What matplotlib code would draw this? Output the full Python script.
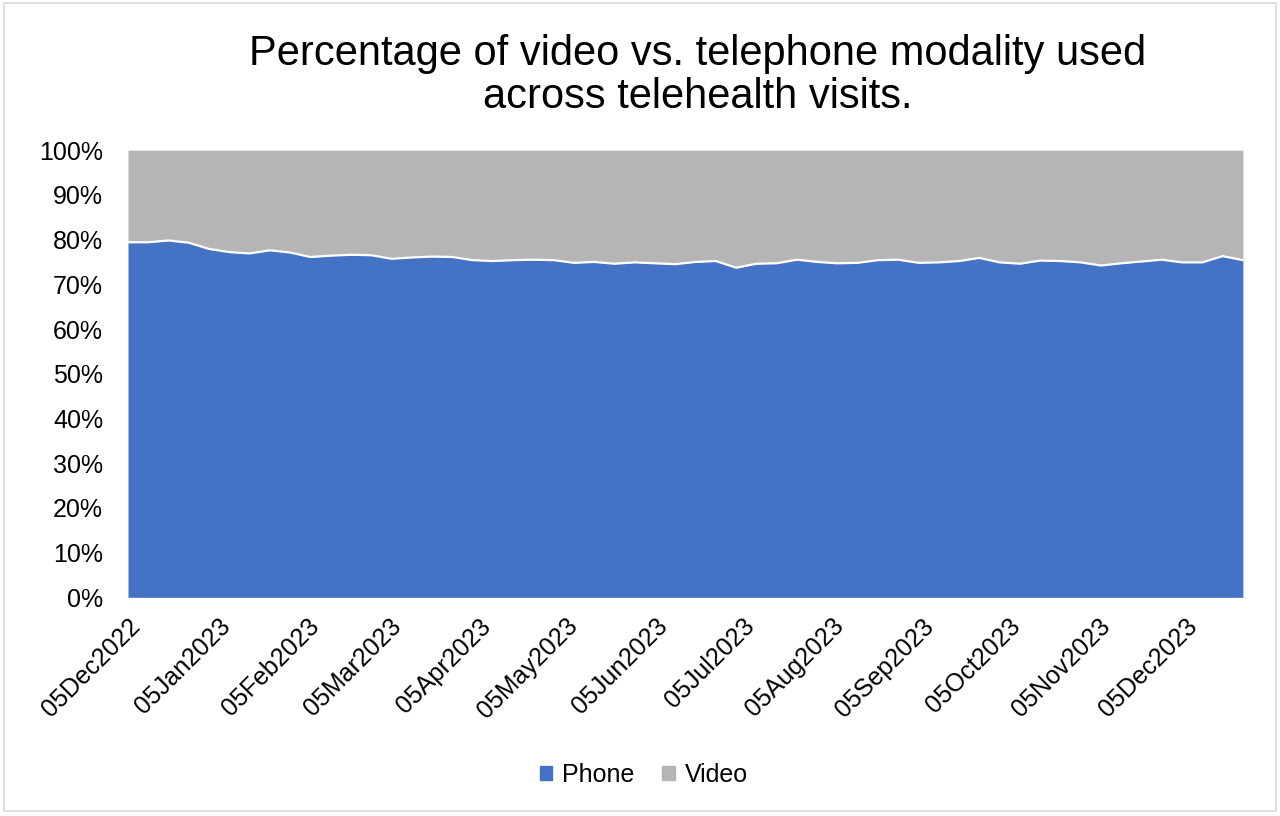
import numpy as np
import pandas as pd
import matplotlib
matplotlib.use("Agg")
import matplotlib.pyplot as plt
import matplotlib.dates as mdates
from matplotlib.patches import Patch

plt.rcParams['font.family'] = ['Liberation Sans', 'DejaVu Sans']

# weekly visits, 05Dec2022 .. 25Dec2023
weeks = pd.date_range("2022-12-05", periods=56, freq="7D")
phone_pct = [79.4, 79.4, 79.8, 79.3, 77.9, 77.2, 76.9, 77.6, 77.1, 76.1,
             76.4, 76.6, 76.5, 75.7, 76.0, 76.2, 76.1, 75.4, 75.2, 75.4,
             75.5, 75.4, 74.8, 75.0, 74.6, 74.9, 74.7, 74.5, 75.0, 75.2,
             73.7, 74.6, 74.7, 75.5, 75.0, 74.7, 74.8, 75.4, 75.5, 74.8,
             74.9, 75.2, 75.9, 74.9, 74.6, 75.3, 75.2, 74.9, 74.2, 74.7,
             75.1, 75.5, 74.9, 74.9, 76.3, 75.4]
video_pct = [100 - p for p in phone_pct]

blue = "#4472C4"
gray = "#B5B5B5"

fig = plt.figure(figsize=(12.8, 8.16), dpi=100)
ax = fig.add_axes([0.1, 0.268, 0.871, 0.548])

phone = np.array(phone_pct)
video = np.array(video_pct)
ax.fill_between(weeks, 0, phone, color=blue, lw=0)
ax.fill_between(weeks, phone, phone + video, color=gray, lw=0)
ax.plot(weeks, phone, color="white", lw=1.6)

ax.set_xlim(weeks[0], weeks[-1])
ax.set_ylim(0, 100)
ax.set_yticks(np.arange(0, 101, 10))
ax.set_yticklabels([f"{v}%" for v in range(0, 101, 10)])
ax.xaxis.set_major_locator(mdates.MonthLocator(bymonthday=5))
ax.xaxis.set_major_formatter(mdates.DateFormatter("%d%b%Y"))
for lab in ax.get_xticklabels():
    lab.set_rotation(45)
    lab.set_ha("right")
    lab.set_rotation_mode("anchor")

ax.tick_params(axis="both", length=0, labelsize=18, colors="black")
ax.tick_params(axis="y", pad=18)
ax.tick_params(axis="x", pad=12)
for s in ax.spines.values():
    s.set_visible(False)

fig.suptitle("Percentage of video vs. telephone modality used\nacross telehealth visits.",
             fontsize=30, x=0.545, y=0.908, va="center", linespacing=1.1)

handles = [Patch(color=blue, label="Phone"), Patch(color=gray, label="Video")]
fig.legend(handles=handles, loc="center", bbox_to_anchor=(0.503, 0.05), ncol=2,
           frameon=False, fontsize=18, handlelength=0.5, handleheight=0.5,
           handletextpad=0.4, columnspacing=1.1)

# chart border
fig.patches.append(plt.Rectangle((0.003, 0.006), 0.994, 0.99, transform=fig.transFigure,
                                 fill=False, edgecolor="#D9D9D9", lw=1.2))

fig.savefig("out.png", dpi=100)
